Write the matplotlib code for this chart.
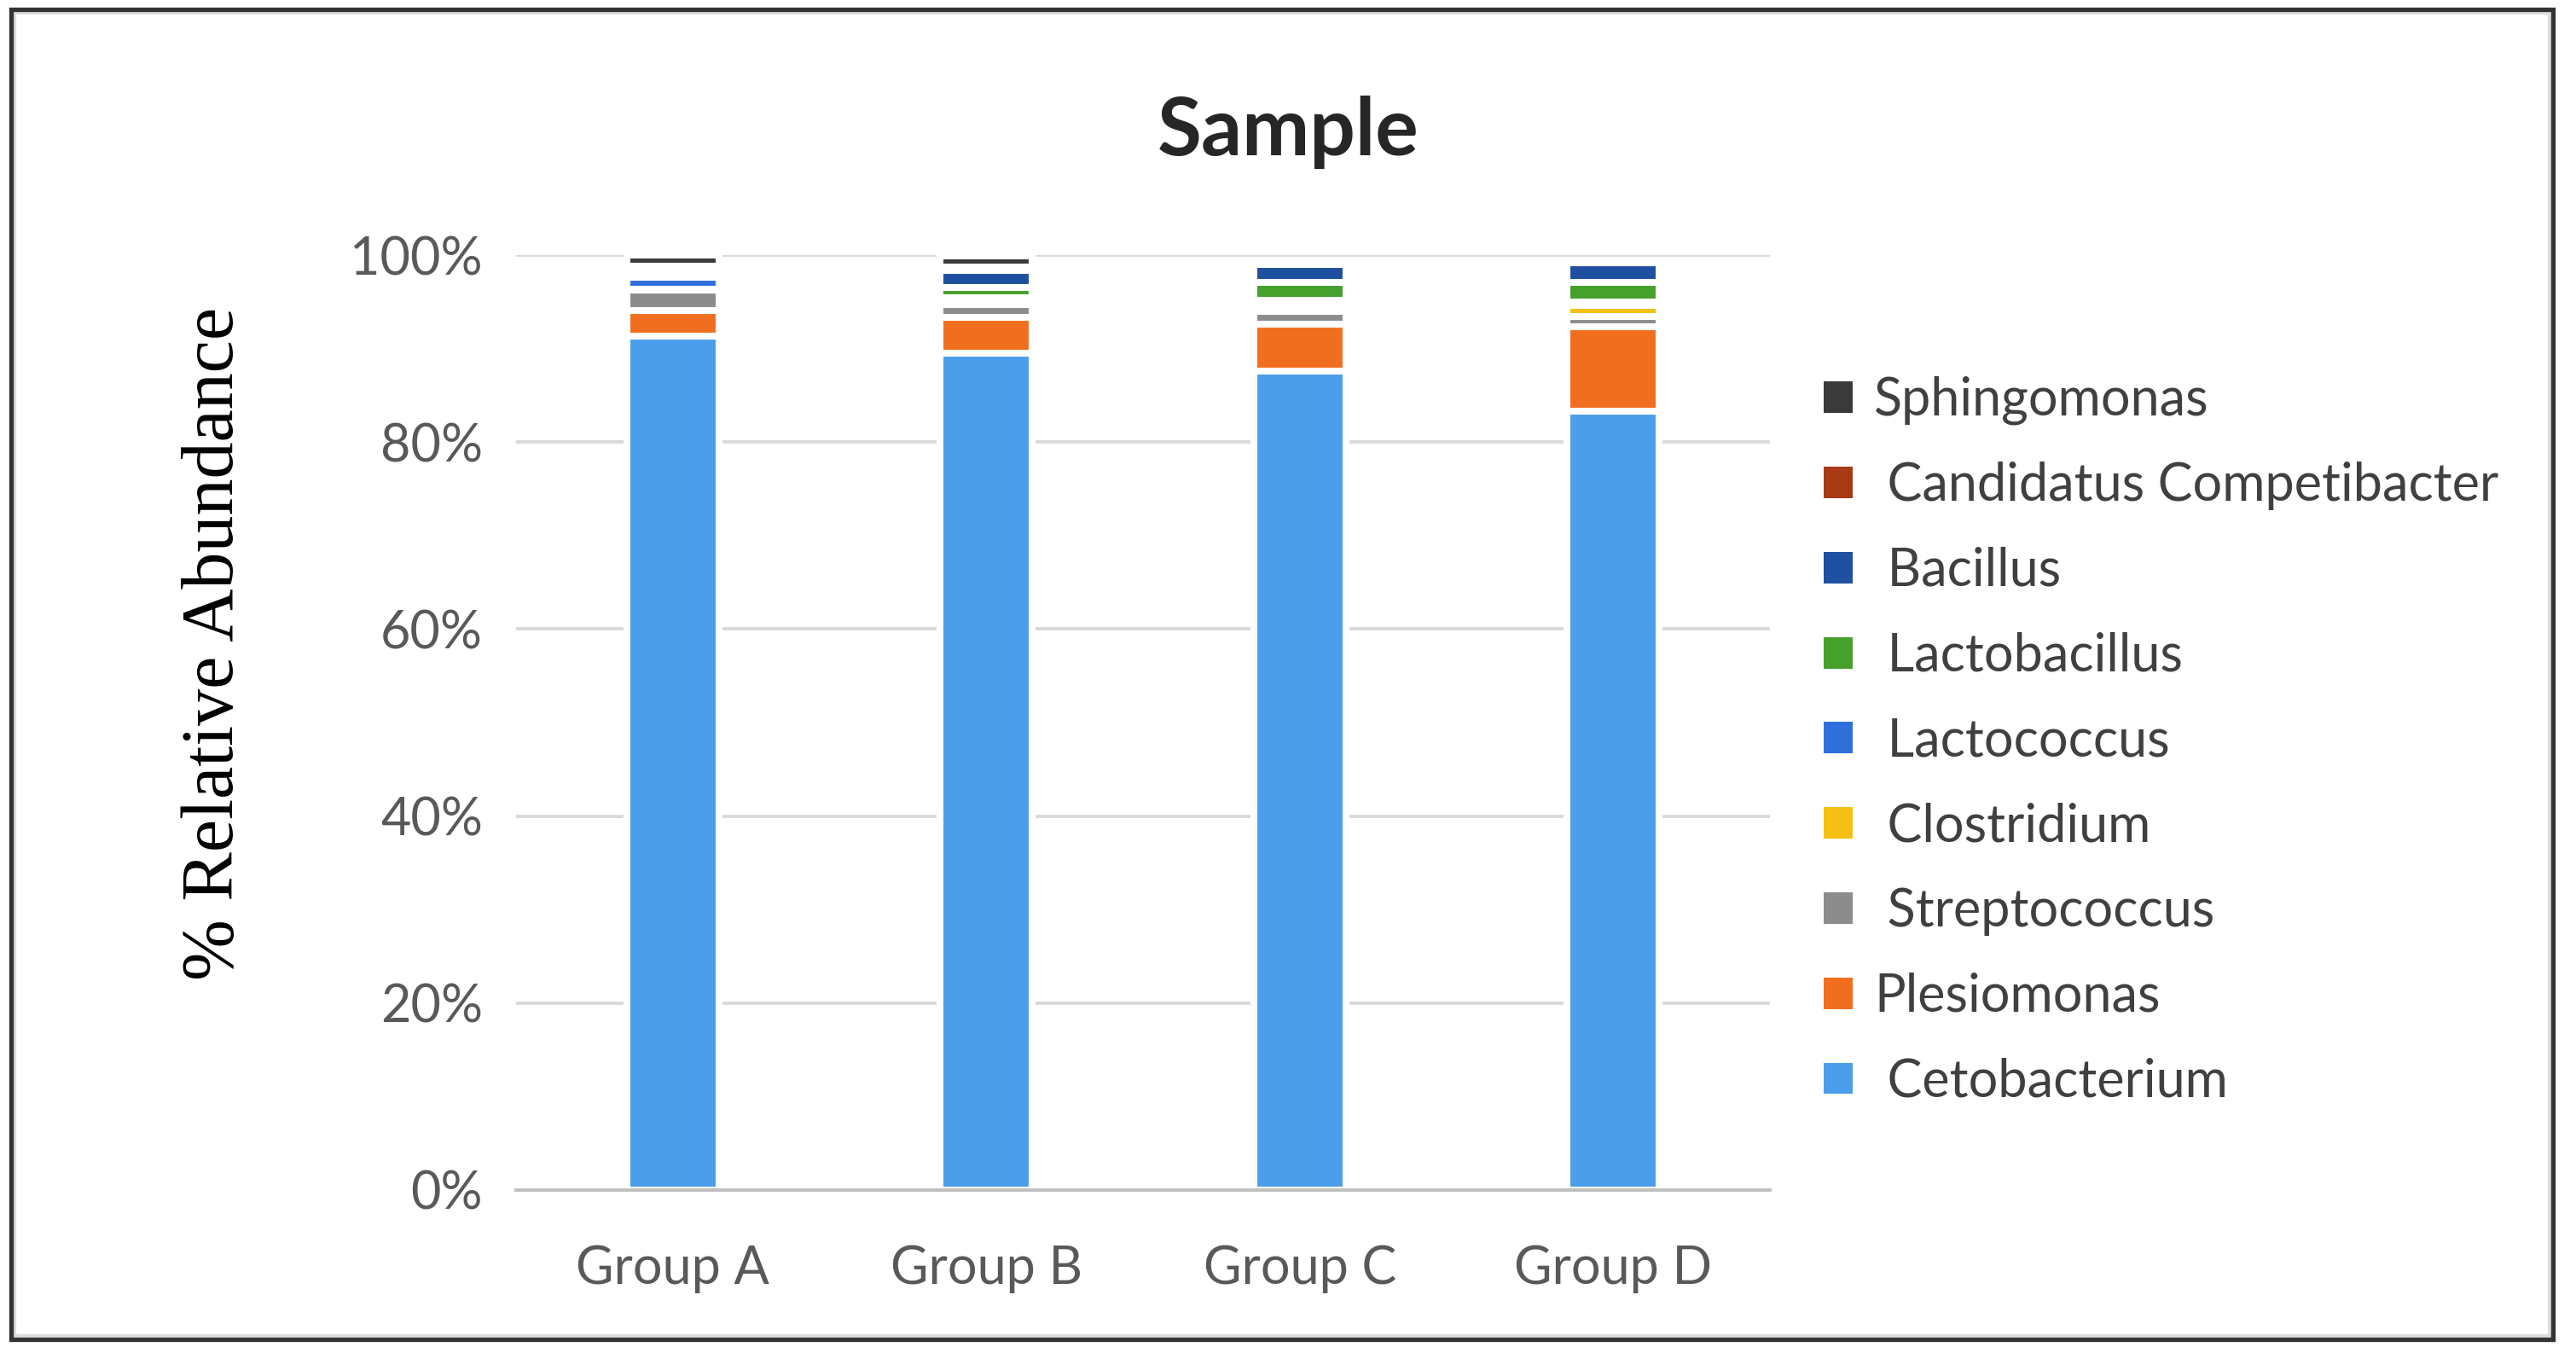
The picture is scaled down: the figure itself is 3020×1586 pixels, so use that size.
import matplotlib
matplotlib.use("Agg")
import matplotlib.pyplot as plt
from matplotlib.patches import Rectangle
import numpy as np

# values, in % of reads, stacked bottom -> top
groups = ["Group A", "Group B", "Group C", "Group D"]
cetobacterium = [91.3, 89.5, 87.6, 83.3]
plesiomonas = [2.8, 3.8, 5.0, 9.0]
streptococcus = [2.2, 1.4, 1.4, 1.1]
clostridium = [0.05, 0.35, 0.6, 1.2]
lactococcus = [1.25, 0.35, 0.6, 0.35]
lactobacillus = [0.4, 1.1, 1.9, 2.1]
bacillus = [0.4, 1.9, 1.9, 2.1]
candidatus = [0.4, 0.3, 0.05, 0.05]
sphingomonas = [1.2, 1.2, 0.0, 0.0]

series = [
    ("Cetobacterium", " Cetobacterium", cetobacterium, "#4a9eea"),
    ("Plesiomonas", "Plesiomonas", plesiomonas, "#f26e1f"),
    ("Streptococcus", " Streptococcus", streptococcus, "#8c8c8c"),
    ("Clostridium", " Clostridium", clostridium, "#f5c013"),
    ("Lactococcus", " Lactococcus", lactococcus, "#2e6fdc"),
    ("Lactobacillus", " Lactobacillus", lactobacillus, "#46a02c"),
    ("Bacillus", " Bacillus", bacillus, "#1f4fa0"),
    ("Candidatus Competibacter", " Candidatus Competibacter", candidatus, "#a83a16"),
    ("Sphingomonas", "Sphingomonas", sphingomonas, "#3a3a3a"),
]

yticks = [0, 20, 40, 60, 80, 100]

DPI = 200
fig = plt.figure(figsize=(3020 / DPI, 1586 / DPI), dpi=DPI)
ax = fig.add_axes([605 / 3020, 1 - 1395 / 1586, 1470 / 3020, 1096 / 1586])

x = np.arange(len(groups))
bottom = np.zeros(len(groups))
handles = []
for name, label, vals, col in series:
    b = ax.bar(x, vals, width=0.295, bottom=bottom, color=col,
               edgecolor="white", linewidth=2.9, label=label, zorder=3)
    handles.append(b)
    bottom = bottom + np.array(vals)

ax.set_xlim(-0.5, 3.5)
ax.set_ylim(0, 100)
ax.set_yticks(yticks)
ax.set_yticklabels([f"{v}%" for v in yticks])
ax.set_xticks(x)
ax.set_xticklabels(groups)
ax.grid(axis="y", color="#d9d9d9", linewidth=1.4, zorder=0)
ax.set_axisbelow(True)
for s in ["top", "right", "left"]:
    ax.spines[s].set_visible(False)
ax.spines["bottom"].set_color("#bfbfbf")
ax.spines["bottom"].set_linewidth(1.4)
ax.spines["bottom"].set_zorder(4)
ax.tick_params(axis="both", length=0, labelsize=22, labelcolor="#595959")
ax.tick_params(axis="x", pad=23)
ax.tick_params(axis="y", pad=14)
for t in ax.get_xticklabels() + ax.get_yticklabels():
    t.set_family("Lato")

fig.text(0.5, 0.902, "Sample", ha="center", va="center", fontsize=34,
         fontweight="bold", family="Lato", color="#262626")
fig.text(0.0834, 0.524, "% Relative Abundance", rotation=90, ha="center",
         va="center", fontsize=31, family="Liberation Serif", color="black")

leg = fig.legend(handles[::-1], [h.get_label() for h in handles[::-1]],
                 loc="upper left", bbox_to_anchor=(0.708, 0.722),
                 frameon=False, prop={"family": "Lato", "size": 22},
                 handlelength=0.55, handleheight=0.55, handletextpad=0.42,
                 labelspacing=0.70, borderpad=0, borderaxespad=0)
for t in leg.get_texts():
    t.set_color("#404040")
for p in leg.get_patches():
    p.set_edgecolor("none")

# outer chart frame
fig.patches.append(Rectangle((17 / 3020, 1 - 1566 / 1586), 2972 / 3020, 1551 / 1586,
                             transform=fig.transFigure, fill=False,
                             edgecolor="#dcdcdc", linewidth=1.5))
fig.patches.append(Rectangle((13 / 3020, 1 - 1570 / 1586), 2980 / 3020, 1559 / 1586,
                             transform=fig.transFigure, fill=False,
                             edgecolor="#333333", linewidth=1.9))

fig.savefig("out.png", dpi=DPI)
